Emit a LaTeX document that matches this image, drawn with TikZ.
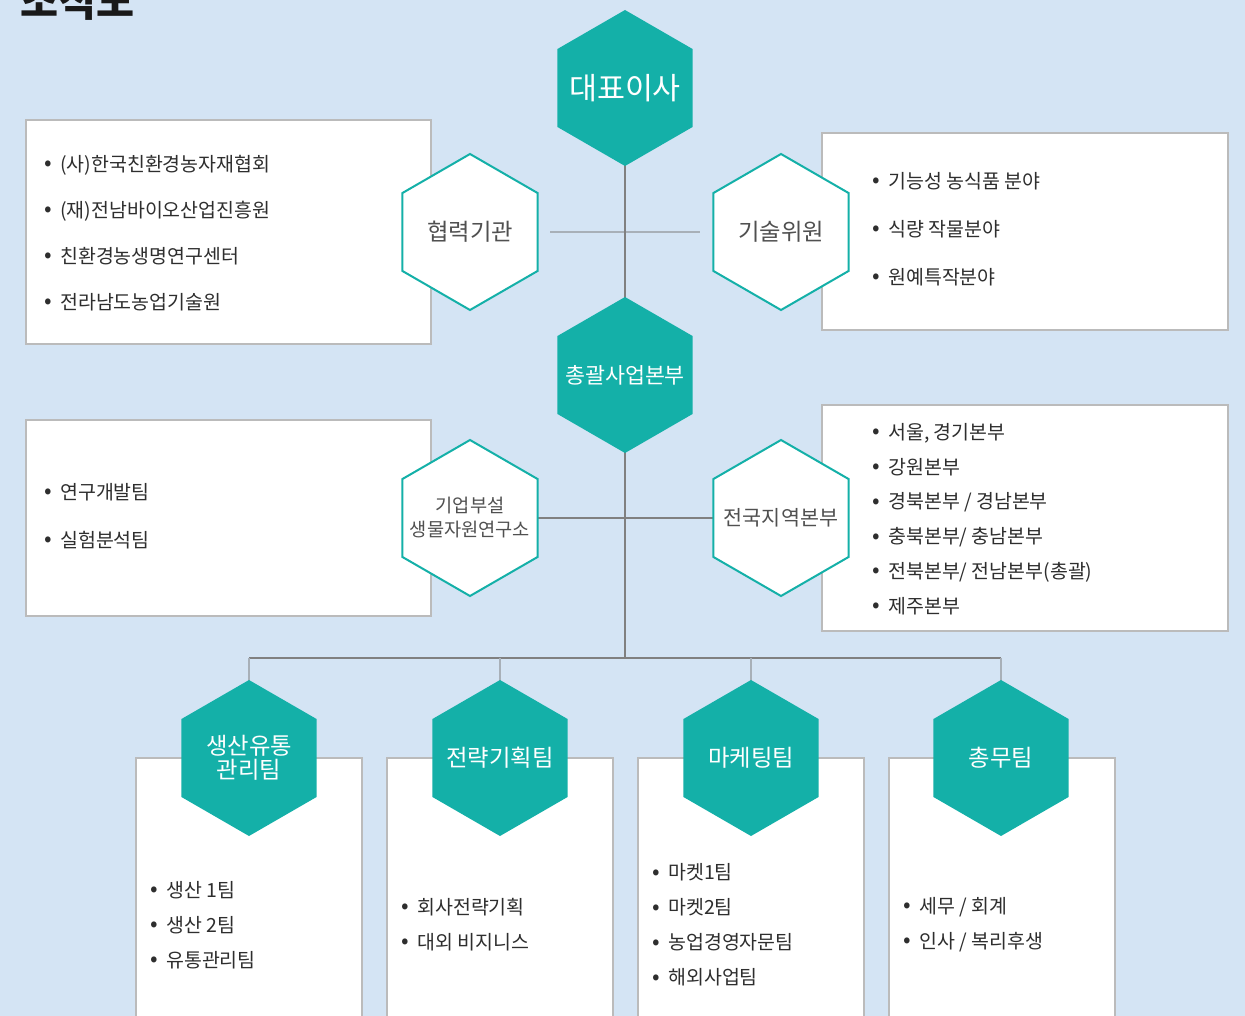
\documentclass[tikz,border=0pt]{standalone}
\usepackage{fontspec}
\setmainfont{Noto Sans CJK KR}
\usetikzlibrary{shapes.geometric,fit}
\definecolor{bgblue}{HTML}{D4E4F4}
\definecolor{tealc}{HTML}{14B0A8}
\definecolor{darkline}{HTML}{808080}
\definecolor{lightline}{HTML}{A8B0B8}
\definecolor{boxgray}{HTML}{BBBBBB}
\definecolor{txt}{HTML}{2E2E2E}
\definecolor{hextxt}{HTML}{505050}
\newcommand{\bul}{\makebox[12pt][l]{\raisebox{0.05ex}{\scalebox{1.15}{•}}}}
\begin{document}
\begin{tikzpicture}[x=0.75pt,y=-0.75pt,
  hexfilled/.style={regular polygon, regular polygon sides=6, shape border rotate=30,
    minimum size=117pt, inner sep=0pt, outer sep=0pt, fill=tealc, draw=none},
  hexline/.style={regular polygon, regular polygon sides=6, shape border rotate=30,
    minimum size=117pt, inner sep=0pt, outer sep=0pt, fill=white, draw=tealc, line width=1.5pt},
  wlabel/.style={text=white, align=center, inner sep=0pt},
  glabel/.style={text=hextxt, align=center, inner sep=0pt},
  listbox/.style={draw=boxgray, line width=0.9pt, fill=white, inner sep=0pt},
  blist/.style={anchor=west, align=left, text=txt, inner sep=0pt},
  darkconn/.style={draw=darkline, line width=0.9pt},
  lightconn/.style={draw=lightline, line width=1.5pt}
]
\useasboundingbox (0,0) rectangle (1245,1016);
\fill[bgblue] (0,0) rectangle (1245,1016);

% title (cut off at top)
\node[anchor=base west, inner sep=0pt, font=\fontsize{31pt}{31pt}\bfseries, text=black!90] (title) at (20,17) {조직도};

% list boxes
\node[listbox, fit={(26,120)(431,344)}] (boxcoop) {};
\node[listbox, fit={(822,133)(1228,330)}] (boxtech) {};
\node[listbox, fit={(26,420)(431,616)}] (boxlab) {};
\node[listbox, fit={(822,405)(1228,631)}] (boxreg) {};
\node[listbox, fit={(136,758)(362,1040)}] (boxprod) {};
\node[listbox, fit={(387,758)(613,1040)}] (boxstrat) {};
\node[listbox, fit={(638,758)(864,1040)}] (boxmkt) {};
\node[listbox, fit={(889,758)(1115,1040)}] (boxadm) {};

% centers
\coordinate (cceo) at (625,88);
\coordinate (ccoop) at (470,232);
\coordinate (ctech) at (781,232);
\coordinate (chq) at (625,375);
\coordinate (clab) at (470,518);
\coordinate (creg) at (781,518);
\coordinate (bus) at (625,658);
\coordinate (bus1) at (249,658);
\coordinate (bus2) at (500,658);
\coordinate (bus3) at (751,658);
\coordinate (bus4) at (1001,658);
\coordinate (cprod) at (249,758);
\coordinate (cstrat) at (500,758);
\coordinate (cmkt) at (751,758);
\coordinate (cadm) at (1001,758);

% connectors
\draw[lightconn, shorten <=60pt, shorten >=60.75pt] (ccoop) -- (ctech);
\draw[darkconn] (cceo) -- (chq) -- (bus);
\draw[darkconn] (clab) -- (creg);
\draw[darkconn] (bus1) -- (bus4);
\draw[lightconn] (bus1) -- (cprod);
\draw[lightconn] (bus2) -- (cstrat);
\draw[lightconn] (bus3) -- (cmkt);
\draw[lightconn] (bus4) -- (cadm);

% hexagons
\node[hexfilled] (hceo) at (cceo) {};
\node[hexline] (hcoop) at (ccoop) {};
\node[hexline] (htech) at (ctech) {};
\node[hexfilled] (hhq) at (chq) {};
\node[hexline] (hlab) at (clab) {};
\node[hexline] (hreg) at (creg) {};
\node[hexfilled] (hprod) at (cprod) {};
\node[hexfilled] (hstrat) at (cstrat) {};
\node[hexfilled] (hmkt) at (cmkt) {};
\node[hexfilled] (hadm) at (cadm) {};

% hexagon labels
\node[wlabel, font=\fontsize{22.8pt}{24pt}\selectfont] (tceo) at (cceo) {대표이사};
\node[glabel, font=\fontsize{17.5pt}{18pt}\selectfont] (tcoop) at (ccoop) {협력기관};
\node[glabel, font=\fontsize{17.5pt}{18pt}\selectfont] (ttech) at (ctech) {기술위원};
\node[wlabel, font=\fontsize{16.3pt}{18pt}\selectfont] (thq) at (chq) {총괄사업본부};
\node[glabel, font=\fontsize{14pt}{18pt}\selectfont] (tlab) at (clab) {기업부설\\생물자원연구소};
\node[glabel, font=\fontsize{15.5pt}{18pt}\selectfont] (treg) at (creg) {전국지역본부};
\node[wlabel, font=\fontsize{17.5pt}{18pt}\selectfont] (tprod) at (cprod) {생산유통\\관리팀};
\node[wlabel, font=\fontsize{17.5pt}{18pt}\selectfont] (tstrat) at (cstrat) {전략기획팀};
\node[wlabel, font=\fontsize{17.5pt}{18pt}\selectfont] (tmkt) at (cmkt) {마케팅팀};
\node[wlabel, font=\fontsize{17.5pt}{18pt}\selectfont] (tadm) at (cadm) {총무팀};

% bullet lists
\node[blist, font=\fontsize{14.6pt}{34.5pt}\selectfont] (lcoop) at (44,233)
  {\bul{}(사)한국친환경농자재협회\\\bul{}(재)전남바이오산업진흥원\\\bul{}친환경농생명연구센터\\\bul{}전라남도농업기술원};
\node[blist, font=\fontsize{14.6pt}{36pt}\selectfont] (ltech) at (872,229)
  {\bul{}기능성 농식품 분야\\\bul{}식량 작물분야\\\bul{}원예특작분야};
\node[blist, font=\fontsize{14.6pt}{36pt}\selectfont] (llab) at (44,516)
  {\bul{}연구개발팀\\\bul{}실험분석팀};
\node[blist, font=\fontsize{14.6pt}{26.1pt}\selectfont] (lreg) at (872,519)
  {\bul{}서울, 경기본부\\\bul{}강원본부\\\bul{}경북본부 / 경남본부\\\bul{}충북본부/ 충남본부\\\bul{}전북본부/ 전남본부(총괄)\\\bul{}제주본부};
\node[blist, font=\fontsize{14.6pt}{26.25pt}\selectfont] (lprod) at (150,925)
  {\bul{}생산 1팀\\\bul{}생산 2팀\\\bul{}유통관리팀};
\node[blist, font=\fontsize{14.6pt}{26.25pt}\selectfont] (lstrat) at (401,924.5)
  {\bul{}회사전략기획\\\bul{}대외 비지니스};
\node[blist, font=\fontsize{14.6pt}{26.25pt}\selectfont] (lmkt) at (652,925)
  {\bul{}마켓1팀\\\bul{}마켓2팀\\\bul{}농업경영자문팀\\\bul{}해외사업팀};
\node[blist, font=\fontsize{14.6pt}{26.25pt}\selectfont] (ladm) at (903,924.5)
  {\bul{}세무 / 회계\\\bul{}인사 / 복리후생};
\end{tikzpicture}
\end{document}
